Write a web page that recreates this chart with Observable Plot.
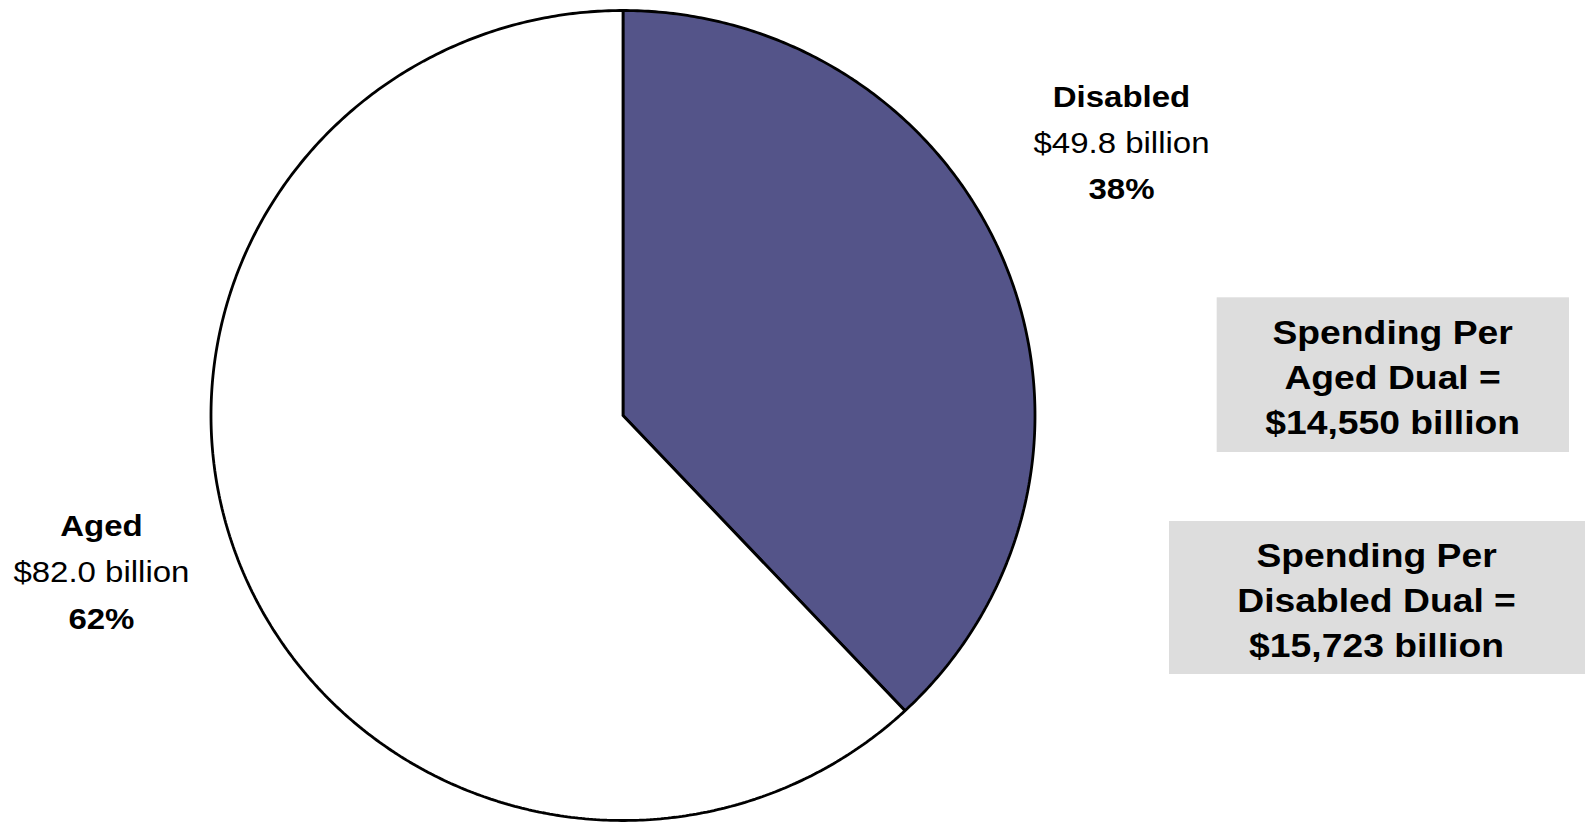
<!DOCTYPE html>
<html>
<head>
<meta charset="utf-8">
<script src="https://cdn.jsdelivr.net/npm/d3@7"></script>
<script src="https://cdn.jsdelivr.net/npm/@observablehq/plot@0.6"></script>
<style>
  html, body { margin: 0; padding: 0; background: #ffffff; }
  #chart { width: 1585px; height: 823px; overflow: hidden; }
</style>
</head>
<body>
<div id="chart"></div>
<script>
// ---- Data ----
const categories = ["Disabled", "Aged"];
const spending = [49.8, 82.0];             // $ billion
const percents = [38, 62];                 // share of spending, %
const amountLabels = spending.map(v => `$${v.toFixed(1)} billion`);
const percentLabels = percents.map(p => `${p}%`);
const sliceColors = ["#545489", "#ffffff"];
const boxLabels = [
  ["Spending Per", "Aged Dual =", "$14,550 billion"],
  ["Spending Per", "Disabled Dual =", "$15,723 billion"]
];

// ---- Layout (unit circle coordinates, pie radius = 1) ----
const labelPos = {
  Disabled: {x: 1.21, y: 0.672},
  Aged: {x: -1.266, y: -0.388}
};
const labelStep = 0.1145;                  // line spacing in y units
const boxPos = [
  {x1: 1.4422, x2: 2.2973, y1: 0.2906, y2: -0.0914, cx: 1.868, cy: 0.0914},
  {x1: 1.3265, x2: 2.40, y1: -0.2617, y2: -0.6395, cx: 1.829, cy: -0.459}
];
const boxStep = 0.111;

// ---- Pie geometry from the percent shares ----
const total = d3.sum(percents);
const slicePts = [];
let acc = 0;
percents.forEach((v, i) => {
  const a0 = acc / total * 2 * Math.PI;
  acc += v;
  const a1 = acc / total * 2 * Math.PI;
  const n = Math.max(2, Math.ceil((a1 - a0) / (Math.PI / 360)));
  slicePts.push({cat: categories[i], x: 0, y: 0});
  for (let k = 0; k <= n; k++) {
    const a = a0 + (a1 - a0) * k / n;
    slicePts.push({cat: categories[i], x: Math.sin(a), y: Math.cos(a)});
  }
  slicePts.push({cat: categories[i], x: 0, y: 0});
});

// label rows
const nameRows = categories.map(c => ({t: c, x: labelPos[c].x, y: labelPos[c].y + labelStep}));
const amtRows = categories.map((c, i) => ({t: amountLabels[i], x: labelPos[c].x, y: labelPos[c].y}));
const pctRows = categories.map((c, i) => ({t: percentLabels[i], x: labelPos[c].x, y: labelPos[c].y - labelStep}));
const boxRows = [];
boxLabels.forEach((lines, b) => lines.forEach((t, j) => boxRows.push({t, x: boxPos[b].cx, y: boxPos[b].cy + (1 - j) * boxStep})));

const W = 1585, H = 823;
const plot = Plot.plot({
  width: W,
  height: H,
  margin: 0,
  x: {domain: [-622.5 / 412, (W - 622.5) / 412], axis: null},
  y: {domain: [-(H - 415) / 405, 415 / 405], axis: null},
  style: {background: "#ffffff", fontFamily: "'Liberation Sans', Arial, sans-serif"},
  marks: [
    Plot.rect(boxPos, {x1: "x1", x2: "x2", y1: "y1", y2: "y2", fill: "#dddddd"}),
    Plot.line(slicePts, {
      x: "x", y: "y", z: "cat",
      fill: d => sliceColors[categories.indexOf(d.cat)],
      stroke: "#000000", strokeWidth: 2.8, strokeLinejoin: "miter"
    }),
    Plot.text(nameRows, {x: "x", y: "y", text: "t", fontSize: 30, fontWeight: "bold", fill: "#000"}),
    Plot.text(amtRows, {x: "x", y: "y", text: "t", fontSize: 30, fill: "#000"}),
    Plot.text(pctRows, {x: "x", y: "y", text: "t", fontSize: 30, fontWeight: "bold", fill: "#000"}),
    Plot.text(boxRows, {x: "x", y: "y", text: "t", fontSize: 33, fontWeight: "bold", fill: "#000"})
  ]
});
document.getElementById("chart").appendChild(plot);

// slight horizontal stretch of text to match the reference's glyph proportions
plot.querySelectorAll('g[aria-label="text"]').forEach((g, gi, all) => {
  const sx = gi === all.length - 1 ? 1.13 : 1.1;
  g.querySelectorAll("text").forEach(t => {
    const tr = t.getAttribute("transform") || "";
    t.setAttribute("transform", `${tr} scale(${sx},1)`);
  });
});
</script>
</body>
</html>
